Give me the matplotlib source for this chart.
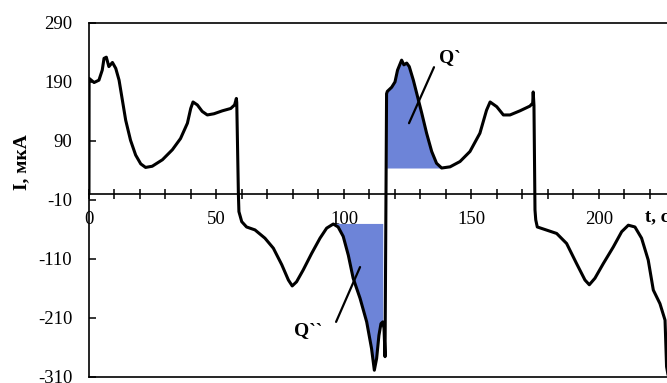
import matplotlib
matplotlib.use("Agg")
import matplotlib.pyplot as plt
import numpy as np

# current trace (t in s, I in uA)
t_pts = [0.0, 0.05, 2.0, 3.9, 5.2, 5.9, 6.8, 7.8, 9.2, 10.5, 11.8, 13.1, 14.4,
         16.3, 18.3, 20.3, 22.2, 24.8, 28.8, 32.7, 35.9, 38.6, 39.9, 40.8,
         42.5, 44.4, 46.4, 49.0, 52.3, 55.6, 57.1, 57.8, 57.95,
         58.6, 58.8, 59.9, 61.8, 65.1, 69.0, 72.3, 75.6, 78.2, 79.7, 81.4,
         84.0, 87.3, 90.6, 93.2, 95.8, 97.7, 99.7, 101.7, 103.6, 106.3, 108.9,
         110.8, 111.9, 112.8, 113.7, 114.5, 115.2, 115.7, 116.1,
         116.7, 117.0, 118.7, 120.0, 121.0, 122.6, 123.5, 124.6, 125.6, 127.2,
         128.5, 130.5, 132.4, 134.4, 136.3, 138.3, 141.6, 145.5, 149.4, 153.3,
         155.9, 157.3, 159.9, 162.5, 165.1, 169.0, 172.9, 174.0, 174.2, 174.5,
         174.9, 175.2, 175.8, 183.4, 187.3, 191.2, 194.5, 196.2, 198.4, 201.7,
         205.6, 208.9, 211.5, 214.1, 216.7, 219.3, 221.3, 223.9, 225.9, 226.5,
         228.0]
i_pts = [0, 196, 189, 193, 210, 230, 232, 216, 223, 213, 193, 159, 125,
         91, 66, 51, 45, 47, 58, 75, 94, 120, 145, 156,
         151, 140, 134, 136, 141, 145, 151, 162, 155,
         -2, -30, -47, -56, -61, -75, -92, -120, -146, -156, -149,
         -129, -101, -75, -58, -51, -56, -72, -104, -143, -177, -217,
         -262, -299, -279, -240, -220, -217, -228, -276,
         170, 174, 181, 190, 210, 227, 219, 222, 216, 193,
         171, 137, 103, 72, 52, 44, 46, 55, 72, 103,
         142, 156, 148, 134, 134, 141, 149, 154, 173, 150,
         -27, -44, -56, -67, -84, -118, -146, -154, -143, -118,
         -90, -64, -53, -56, -75, -112, -163, -186, -214, -293,
         -330]

# shaded charge areas: (t_start, t_end, base level)
q1_span = (116.75, 138.3, 44)
q2_span = (95.8, 115.2, -50)

x_ticks = [0, 50, 100, 150, 200]
y_ticks = [290, 190, 90, -10, -110, -210, -310]

fill_color = "#6d84d8"

plt.rcParams["font.family"] = ["Liberation Serif", "DejaVu Serif"]
plt.rcParams["axes.unicode_minus"] = False

fig = plt.figure(figsize=(6.67, 3.83), dpi=100)
ax = fig.add_axes([0.1334, 0.0164, 0.9558, 0.9236])

t = np.array(t_pts)
cur = np.array(i_pts)

# fills under the curve
for t0, t1, base in (q1_span, q2_span):
    tt = np.linspace(t0, t1, 300)
    ii = np.interp(tt, t, cur)
    ax.fill_between(tt, ii, base, color=fill_color, lw=0, zorder=1)

ax.plot(t, cur, color="black", lw=2.2, zorder=3, solid_joinstyle="round",
        solid_capstyle="round")

ax.set_xlim(0, 250)
ax.set_ylim(-310, 290)

# axis at I = 0, frame kept around
ax.spines["bottom"].set_position(("data", 0))
ax.spines["bottom"].set_zorder(2)
ax.plot([0, 1], [0, 0], transform=ax.transAxes, color="black", lw=1.2, clip_on=False)
for s in ax.spines.values():
    s.set_linewidth(1.2)

ax.set_xticks(x_ticks)
ax.set_xticks(np.arange(0, 251, 10), minor=True)
ax.set_yticks(y_ticks)
ax.tick_params(axis="x", which="both", direction="inout", length=7, width=1.1,
               labelsize=13.5, pad=9)
ax.tick_params(axis="y", direction="in", length=5, width=1.1, labelsize=13.5, pad=12)

ax.text(-0.105, 0.607, "I, мкА", transform=ax.transAxes, fontsize=14,
        fontweight="bold", rotation=90, ha="center", va="center")
ax.text(218, -39, "t, с", fontsize=13.5, fontweight="bold", ha="left", va="center")

# labels for the shaded charges
ax.annotate("", xy=(125.5, 120), xytext=(135.3, 215),
            arrowprops=dict(arrowstyle="-", color="black", lw=1.6,
                            shrinkA=0, shrinkB=0))
ax.text(141.6, 231, "Q`", fontsize=14, fontweight="bold", ha="center", va="center")
ax.annotate("", xy=(106.3, -124), xytext=(96.9, -217),
            arrowprops=dict(arrowstyle="-", color="black", lw=1.6,
                            shrinkA=0, shrinkB=0))
ax.text(86, -231, "Q``", fontsize=14, fontweight="bold", ha="center", va="center")

fig.savefig("out.png", dpi=100)
